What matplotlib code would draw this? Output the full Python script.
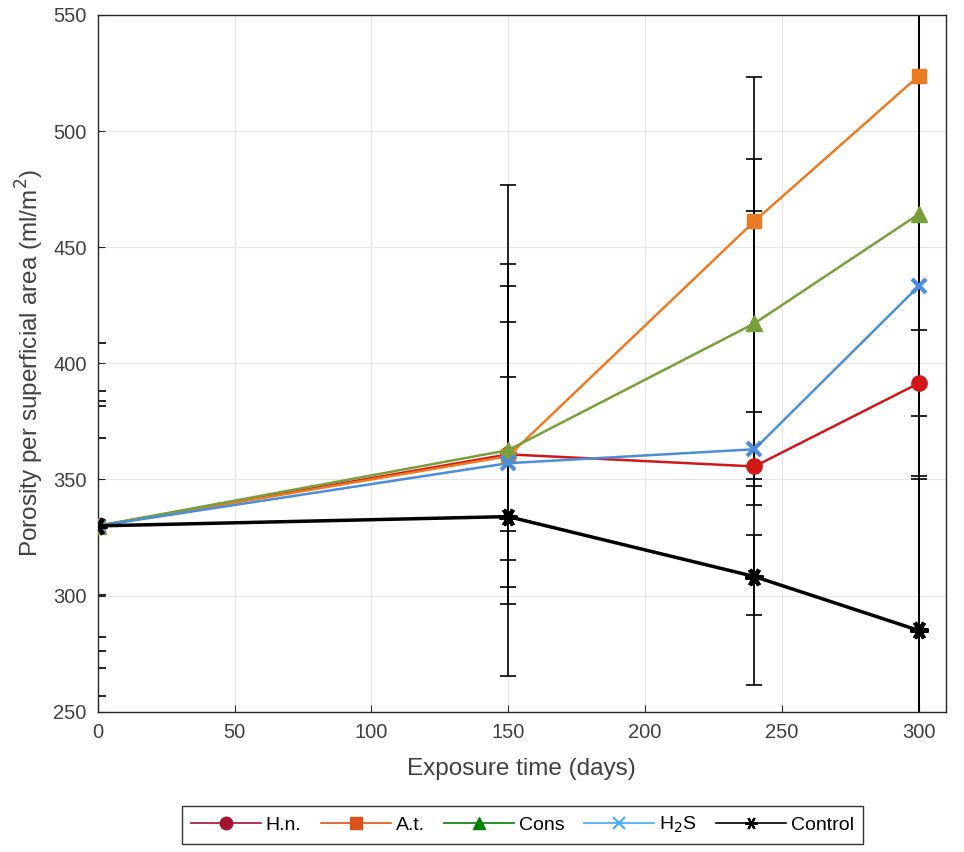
import matplotlib
matplotlib.use("Agg")
import matplotlib.pyplot as plt
from matplotlib.lines import Line2D
import numpy as np

plt.rcParams['font.family'] = ['Liberation Sans', 'DejaVu Sans']

# exposure time (days)
days = [0, 150, 240, 300]

# porosity per superficial area (ml/m2)
hn = [330, 360.8, 355.6, 391.4]
at = [330, 360.0, 461.2, 523.7]
cons = [330, 362.6, 417.2, 464.2]
h2s = [330, 357.0, 363.0, 433.2]
control = [330, 334.0, 308.2, 285.0]

# error bars (lower, upper)
hn_lo = [29.7, 33.1, 5.6, 14.2]
hn_hi = [38.0, 33.3, 110.0, 22.8]
at_lo = [73.1, 94.5, 199.6, 293.7]
at_hi = [78.8, 116.7, 62.2, 96.3]
cons_lo = [61.3, 59.0, 78.1, 224.2]
cons_hi = [57.9, 80.1, 70.7, 135.8]
h2s_lo = [54.0, 60.6, 16.0, 82.9]
h2s_hi = [53.8, 60.8, 16.0, 126.8]
control_lo = [48.0, 18.9, 16.4, 66.7]
control_hi = [51.5, 99.2, 17.7, 66.7]

labels = ['H.n.', 'A.t.', 'Cons', 'H$_2$S', 'Control']

fig = plt.figure(figsize=(9.64, 8.52), dpi=100)
ax = fig.add_axes([0.1014, 0.1647, 0.8799, 0.8177])

series = [
    (hn, hn_lo, hn_hi, '#D01818', 'o', 11, 1.8),
    (at, at_lo, at_hi, '#EC7A22', 's', 10, 1.8),
    (cons, cons_lo, cons_hi, '#77A03A', '^', 11, 1.8),
    (h2s, h2s_lo, h2s_hi, '#4A8EDB', 'x', 10, 1.8),
    (control, control_lo, control_hi, 'black', (6, 2, 90), 13, 2.5),
]

for vals, lo, hi, col, mk, ms, lw in series:
    ax.errorbar(days, vals, yerr=[lo, hi], fmt='none', ecolor='black',
                elinewidth=1.2, capsize=6, capthick=1.2, zorder=2)

for vals, lo, hi, col, mk, ms, lw in series:
    mew = 3 if mk == 'x' or isinstance(mk, tuple) else 1
    ax.plot(days, vals, color=col, marker=mk, markersize=ms, linewidth=lw,
            markerfacecolor=col, markeredgecolor=col, markeredgewidth=mew, zorder=3)

ax.set_xlim(0, 310)
ax.set_ylim(250, 550)
ax.set_xticks(np.arange(0, 301, 50))
ax.set_yticks(np.arange(250, 551, 50))
ax.tick_params(direction='in', labelsize=14.5, colors='#262626', labelcolor='#404040',
               length=5, pad=8, top=False, right=False)
ax.grid(True, color='#e6e6e6', linewidth=0.8)
ax.set_axisbelow(True)
for s in ax.spines.values():
    s.set_color('#262626')
    s.set_linewidth(1.0)

ax.set_xlabel('Exposure time (days)', fontsize=17.5, color='#404040', labelpad=12)
ax.set_ylabel('Porosity per superficial area (ml/m$^2$)', fontsize=17.5,
              color='#404040', labelpad=5)

# legend uses its own handles
leg_colors = ['#A2142F', '#D95319', '#008000', '#3FA9F5', 'black']
leg_markers = ['o', 's', '^', 'x', (6, 2, 90)]
handles = []
for c, m in zip(leg_colors, leg_markers):
    handles.append(Line2D([], [], color=c, marker=m, markersize=9, linewidth=1.2,
                          markerfacecolor=c, markeredgecolor=c,
                          markeredgewidth=1.5 if m in ('x',) or isinstance(m, tuple) else 1))
leg = fig.legend(handles, labels, loc='center', bbox_to_anchor=(0.542, 0.032),
                 ncol=5, fontsize=14, handlelength=3.6, handletextpad=0.25,
                 columnspacing=1.0, frameon=True, fancybox=False,
                 borderpad=0.45)
leg.get_frame().set_edgecolor('black')
leg.get_frame().set_linewidth(1.0)

fig.savefig('out.png', dpi=100)
